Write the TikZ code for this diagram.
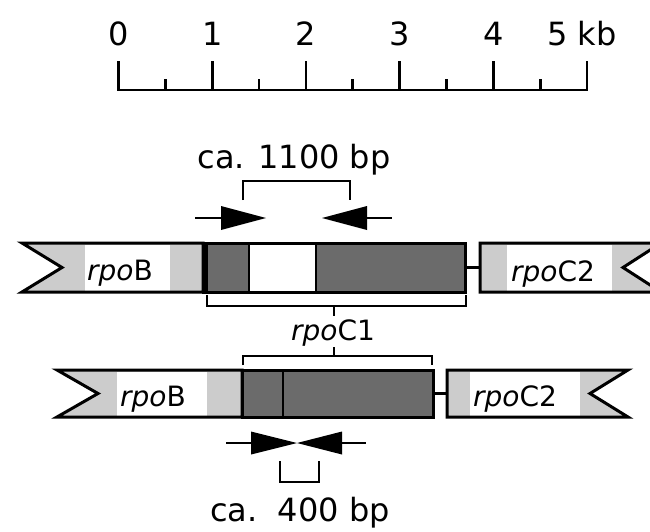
\documentclass[tikz,border=0pt]{standalone}
\usepackage{fontspec}
\setmainfont{DejaVu Sans}
\usetikzlibrary{calc}
\definecolor{lightstip}{gray}{0.80}
\definecolor{darkstip}{gray}{0.42}
\begin{document}
\begin{tikzpicture}[x=1pt,y=-1pt,
  rule/.style={line width=2.8pt},
  outline/.style={draw=black,line width=3pt,line join=miter},
  scalelab/.style={font=\fontsize{32}{32}\selectfont,anchor=base,inner sep=0pt},
  sizelab/.style={font=\fontsize{32}{32}\selectfont,anchor=base,inner sep=0pt},
  genelab/.style={font=\fontsize{28}{28}\selectfont,anchor=base,inner sep=0pt}]
\clip (0,0) rectangle (650,531);

% ---- kb scale ----
\foreach \i in {0,...,5} \coordinate (t\i) at ({118.5+93.7*\i},90);
\draw[rule] ($(t0)+(0,-29)$) -- (t0) -- (t5) -- ($(t5)+(0,-29)$);
\foreach \i in {1,...,4} \draw[rule] (t\i) -- ++(0,-29);
\foreach \i in {0,...,4} \draw[rule] ($(t\i)+(46.85,0)$) -- ++(0,-11);
\foreach \i in {0,...,4} \node[scalelab] (n\i) at ({118.5+93.7*\i},45) {\i};
\node[scalelab] (n5) at (582,45) {5 kb};

% ---- upper map: PCR product of ca. 1100 bp ----
\node[sizelab] (big) at (294,168) {ca. 1100 bp};
\draw[rule] (243,200) -- (243,181) -- (350,181) -- (350,200);
\coordinate (pa1) at (221,218);
\coordinate (pb1) at (367,218);
\draw[rule] (195,218) -- (pa1);
\fill (221,206) -- (266,218) -- (221,230) -- cycle;
\draw[rule] (pb1) -- (392,218);
\fill (367,206) -- (322,218) -- (367,230) -- cycle;

% rpoB
\fill[lightstip] (22,243) -- (203,243) -- (203,292) -- (22,292) -- (62,267.5) -- cycle;
\fill[white] (85,244.5) rectangle (170,290.5);
\draw[outline] (22,243) -- (203,243) -- (203,292) -- (22,292) -- (62,267.5) -- cycle;
\node[genelab] (b1) at (120,280) {\itshape rpo\upshape B};
% rpoC1 with deletion
\fill[darkstip] (203,243) rectangle (465,292);
\filldraw[fill=white,draw=black,line width=2pt] (249,243) rectangle (316,292);
\draw[outline] (203,243) rectangle (465,292);
\draw[line width=5.5pt] (205,243) -- (205,292);
% spacer and rpoC2
\draw[line width=3pt] (465,267.5) -- (480,267.5);
\fill[lightstip] (480,243) -- (661,243) -- (623,267.5) -- (661,292) -- (480,292) -- cycle;
\fill[white] (507,244.5) rectangle (612,290.5);
\draw[outline] (480,243) -- (661,243) -- (623,267.5) -- (661,292) -- (480,292) -- cycle;
\node[genelab] (c21) at (553,281) {\itshape rpo\upshape C2};

% ---- rpoC1 label with brackets ----
\draw[rule] (207,295) -- (207,306) -- (466,306) -- (466,295);
\draw[rule] (334,306) -- (334,316);
\node[genelab] (c1) at (333,340) {\itshape rpo\upshape C1};
\draw[rule] (243,365) -- (243,356) -- (432,356) -- (432,365);
\draw[rule] (334,356) -- (334,347);

% ---- lower map: PCR product of ca. 400 bp ----
\fill[lightstip] (57,370) -- (242,370) -- (242,417) -- (57,417) -- (98,393.5) -- cycle;
\fill[white] (117,371.5) rectangle (207,415.5);
\draw[outline] (57,370) -- (242,370) -- (242,417) -- (57,417) -- (98,393.5) -- cycle;
\node[genelab] (b2) at (153,406) {\itshape rpo\upshape B};
\fill[darkstip] (242,370) rectangle (433,417);
\draw[line width=2.2pt] (283,370) -- (283,417);
\draw[outline] (242,370) rectangle (433,417);
\draw[line width=3pt] (433,393.5) -- (447,393.5);
\fill[lightstip] (447,370) -- (628,370) -- (590,393.5) -- (628,417) -- (447,417) -- cycle;
\fill[white] (470,371.5) rectangle (580,415.5);
\draw[outline] (447,370) -- (628,370) -- (590,393.5) -- (628,417) -- (447,417) -- cycle;
\node[genelab] (c22) at (515,406) {\itshape rpo\upshape C2};

\coordinate (pa2) at (251,443);
\coordinate (pb2) at (342,443);
\draw[rule] (226,443) -- (pa2);
\fill (251,431.5) -- (297,443) -- (251,454.5) -- cycle;
\draw[rule] (pb2) -- (366,443);
\fill (342,431.5) -- (297,443) -- (342,454.5) -- cycle;
\draw[rule] (280,461) -- (280,482) -- (319,482) -- (319,461);
\node[sizelab] (small) at (300,521) {ca.\ \ 400 bp};
\end{tikzpicture}
\end{document}
